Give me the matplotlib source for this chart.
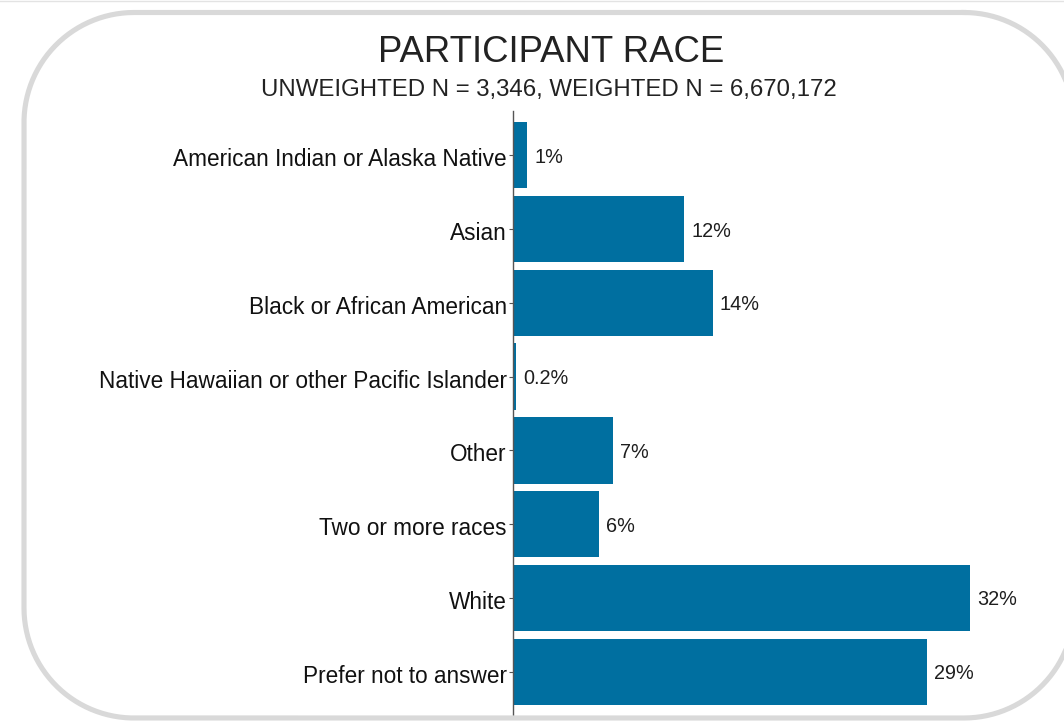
import numpy as np
import matplotlib
matplotlib.use("Agg")
import matplotlib.pyplot as plt
from matplotlib.lines import Line2D
from matplotlib import transforms

plt.rcParams["font.family"] = ["Liberation Sans", "DejaVu Sans"]

categories = [
    "American Indian or Alaska Native",
    "Asian",
    "Black or African American",
    "Native Hawaiian or other Pacific Islander",
    "Other",
    "Two or more races",
    "White",
    "Prefer not to answer",
]
percents = [1, 12, 14, 0.2, 7, 6, 32, 29]

title = "PARTICIPANT RACE"
subtitle = "UNWEIGHTED N = 3,346, WEIGHTED N = 6,670,172"

W, H = 1064, 721
fig = plt.figure(figsize=(W / 100, H / 100), dpi=100)
fig.patch.set_facecolor("white")

# thin rule along the top edge
fig.add_artist(Line2D([0, 1], [1 - 0.5 / H, 1 - 0.5 / H], transform=fig.transFigure,
                      color="#e3e3e3", lw=1.0))


def rounded_rect(x0, y0, x1, y1, r, n=60):
    """Outline of a rounded rectangle as a dense polyline (pixel coords, y down)."""
    pts = []
    corners = [
        (x1 - r, y0 + r, -90, 0),    # top-right
        (x1 - r, y1 - r, 0, 90),     # bottom-right
        (x0 + r, y1 - r, 90, 180),   # bottom-left
        (x0 + r, y0 + r, 180, 270),  # top-left
    ]
    for cx, cy, a0, a1 in corners:
        t = np.radians(np.linspace(a0, a1, n))
        pts.append(np.column_stack([cx + r * np.cos(t), cy + r * np.sin(t)]))
    pts = np.vstack(pts + [pts[0][:1]])
    return pts


# rounded card frame; right side runs past the canvas edge
pts = rounded_rect(24, 12.5, 1074, 718, 110)
fx = pts[:, 0] / W
fy = 1 - pts[:, 1] / H
fig.add_artist(Line2D(fx, fy, transform=fig.transFigure, color="#d9d9d9",
                      lw=3.7, solid_joinstyle="round", clip_on=False))

# plotting area
ax_left, ax_right = 513, 1040
ax_top, ax_bottom = 111, 716
ax = fig.add_axes([ax_left / W, 1 - ax_bottom / H,
                   (ax_right - ax_left) / W, (ax_bottom - ax_top) / H])

ypos = list(range(len(categories)))
ax.barh(ypos, percents, height=0.9, color="#006fa0", edgecolor="none")

px_per_unit = (970 - ax_left) / 32
ax.set_xlim(0, (ax_right - ax_left) / px_per_unit)
ax.set_ylim(len(categories) - 0.4, -0.6)

for y, v in zip(ypos, percents):
    ax.annotate(f"{v:g}%", (v, y), xytext=(7, -2), textcoords="offset pixels",
                ha="left", va="center", fontsize=14.3, color="#1e1e1e")

ax.set_yticks(ypos)
ax.set_yticklabels(categories, fontsize=16.3, color="#111111")
ax.tick_params(axis="y", length=3, width=0.8, color="#555555", pad=1.5)
shift = transforms.ScaledTranslation(0, -2 / 100, fig.dpi_scale_trans)
for lab in ax.get_yticklabels():
    lab.set_transform(lab.get_transform() + shift)
ax.set_xticks([])

for side in ["top", "right", "bottom"]:
    ax.spines[side].set_visible(False)
ax.spines["left"].set_color("#555555")
ax.spines["left"].set_linewidth(1.0)
ax.patch.set_alpha(0)

fig.text(551 / W, 1 - 53 / H, title, ha="center", va="center",
         fontsize=26.3, color="#222222")
fig.text(549 / W, 1 - 90 / H, subtitle, ha="center", va="center",
         fontsize=17.3, color="#222222")

fig.savefig("out.png", dpi=100, facecolor="white")
